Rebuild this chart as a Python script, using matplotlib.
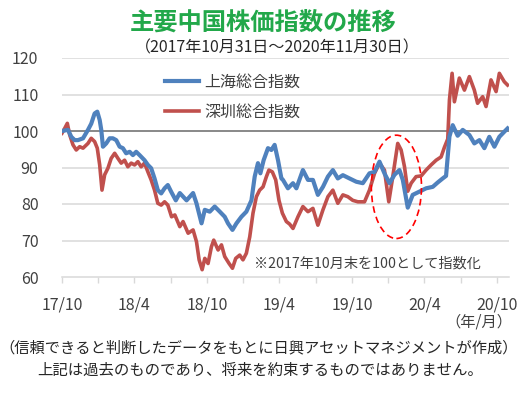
import matplotlib
matplotlib.use("Agg")
import matplotlib.pyplot as plt
from matplotlib.patches import Ellipse

plt.rcParams['font.family'] = ['Noto Sans CJK JP', 'DejaVu Sans']

# months elapsed since 2017-10-31
sh_months = [0, 0.50, 0.77, 1.05, 1.32, 1.74, 2.15, 2.42, 2.70, 2.92, 3.12, 3.25, 3.39, 3.66,
             3.94, 4.21, 4.49, 4.77, 5.04, 5.31, 5.60, 5.87, 6.14, 6.42, 6.83, 7.11, 7.38,
             7.66, 7.93, 8.21, 8.49, 8.76, 9.03, 9.42, 9.75, 10.31, 10.85, 11.13, 11.55,
             11.82, 12.23, 12.64, 13.06, 13.47, 13.74, 14.11, 14.44, 14.85, 15.26, 15.68,
             15.95, 16.22, 16.42, 16.69, 17.05, 17.33, 17.60, 17.88, 18.16, 18.29, 18.70,
             19.12, 19.40, 19.94, 20.36, 20.77, 21.18, 21.60, 22.01, 22.42, 22.83, 23.25,
             23.80, 24.36, 24.90, 25.45, 25.87, 26.28, 26.69, 27.11, 27.52, 27.93, 28.21,
             28.62, 29.03, 29.59, 30.14, 30.69, 31.10, 31.51, 31.79, 32.07, 32.34, 32.75,
             33.17, 33.72, 34.13, 34.55, 34.96, 35.37, 35.79, 36.20, 36.61, 36.88]
sh_values = [100, 100.3, 98.4, 97.5, 97.5, 98, 100.3, 102, 104.8, 105.3, 103, 100.3, 95.7, 96.6,
             98, 98, 97.5, 95.7, 95.3, 93.9, 94.3, 93.4, 94.3, 93.4, 92, 90.7, 89.8,
             87, 83.8, 82.9, 84.3, 85.2, 83.4, 81, 83, 81, 83, 80.2, 74.7,
             78.4, 77.9, 79.3, 77.9, 76.5, 74.7, 72.9, 74.7, 76.5, 77.9, 81,
             87.5, 91.2, 88.4, 92, 95.3, 94.8, 96.2, 92, 87, 86.6, 84.3,
             85.7, 84.3, 89.3, 86.6, 86.6, 82.5, 84.7, 87.5, 89.3, 87, 87.9,
             87, 86.1, 85.7, 88.4, 88.8, 91.6, 88.4, 85.7, 88, 89.3, 86.6,
             79, 82.5, 83.4, 84.3, 84.7, 85.9, 87, 87.7, 98.5, 101.6, 98.7,
             100.3, 98.9, 96.6, 97.5, 95.3, 98.4, 95.7, 98.4, 99.8, 100.7]

sz_months = [0, 0.22, 0.44, 0.64, 0.91, 1.18, 1.46, 1.74, 2.15, 2.42, 2.70, 2.92, 3.12, 3.31,
             3.53, 3.80, 4.07, 4.36, 4.63, 4.90, 5.18, 5.45, 5.73, 6.01, 6.28, 6.55, 6.83,
             7.11, 7.38, 7.66, 7.93, 8.21, 8.49, 8.76, 9.07, 9.34, 9.75, 10.02, 10.44, 10.85,
             11.13, 11.35, 11.60, 11.82, 12.09, 12.37, 12.56, 12.92, 13.20, 13.47, 13.83,
             14.11, 14.38, 14.71, 14.98, 15.26, 15.54, 15.81, 16.09, 16.36, 16.64, 16.92,
             17.13, 17.41, 17.69, 17.96, 18.24, 18.57, 18.84, 19.12, 19.53, 19.94, 20.36,
             20.77, 21.18, 21.60, 22.01, 22.42, 22.83, 23.25, 23.66, 24.07, 24.49, 25.04,
             25.45, 25.87, 26.28, 26.69, 27.05, 27.38, 27.79, 28.07, 28.35, 28.62, 28.90,
             29.31, 29.73, 30.14, 30.55, 30.97, 31.38, 31.65, 31.93, 32.07, 32.29, 32.48,
             32.89, 33.31, 33.72, 34.13, 34.40, 34.82, 35.10, 35.51, 35.93, 36.20, 36.61, 36.88]
sz_values = [99.4, 100.7, 102.1, 98.9, 96.2, 94.8, 95.7, 95.3, 96.6, 98, 97.1, 95.3, 90.7, 83.8,
             88, 89.8, 92.5, 93.9, 92.5, 91.2, 92, 90.2, 91.2, 90.7, 91.6, 90.2, 91.2,
             88.8, 86.6, 83.8, 80.2, 79.7, 80.6, 79.7, 76.5, 77, 73.8, 75.2, 72, 72.9,
             69.7, 64.7, 62, 65.1, 63.7, 68.3, 70.1, 67.4, 68.8, 65.6, 63.7,
             62.4, 65.1, 66, 64.7, 66.5, 71, 77.5, 82, 83.8, 84.7, 87.5,
             89.3, 88.8, 86.6, 81, 77.5, 75.2, 74.5, 73.3, 76.5, 79.3, 77.9,
             78.8, 74.2, 78.4, 82, 83.8, 80.2, 82.5, 82, 81, 80.6, 80.6,
             83.8, 88.4, 91.2, 89.3, 80.6, 87.5, 96.6, 94.8, 90.2, 83.5, 85.7,
             87.5, 87.7, 89.3, 90.7, 92, 92.9, 95.5, 97.8, 108.5, 115.8, 108,
             114.5, 111.2, 114.9, 111.2, 107.6, 109.4, 106.7, 114, 110.8, 115.8, 113.5, 112.6]

tick_months = [0, 6, 12, 18, 24, 30, 36]
tick_labels = ['17/10', '18/4', '18/10', '19/4', '19/10', '20/4', '20/10']
y_ticks = [60, 70, 80, 90, 100, 110, 120]
series_names = ['上海総合指数', '深圳総合指数']

BLUE = '#4F81BD'
RED = '#C0504D'
TXT = '#404040'

fig = plt.figure(figsize=(5.28, 3.97), dpi=100)
ax = fig.add_axes([62/528, 1-277/397, 447/528, 219/397])

for y in y_ticks:
    if y == 100:
        ax.axhline(y, color='#7f7f7f', lw=1.3, zorder=1)
    elif y != 60:
        ax.axhline(y, color='#d9d9d9', lw=1.1, zorder=1)

l1, = ax.plot(sh_months, sh_values, color=BLUE, lw=3.0, zorder=3, solid_joinstyle='round')
l2, = ax.plot(sz_months, sz_values, color=RED, lw=2.6, zorder=2, solid_joinstyle='round')

ax.set_xlim(0, 37)
ax.set_ylim(60, 120)
ax.set_yticks(y_ticks)
ax.set_yticklabels([str(v) for v in y_ticks])
ax.set_xticks(range(0, 37, 3), minor=False)
ax.set_xticklabels([tick_labels[tick_months.index(m)] if m in tick_months else '' for m in range(0, 37, 3)])
ax.tick_params(axis='y', length=0, labelsize=11.5, labelcolor=TXT, pad=17)
ax.tick_params(axis='x', length=4, width=1, color='#d9d9d9', labelsize=11.5, labelcolor=TXT, pad=10)
for s in ['top', 'right', 'left']:
    ax.spines[s].set_visible(False)
ax.spines['bottom'].set_color('#d9d9d9')
ax.spines['bottom'].set_linewidth(1.1)

ax.legend([l1, l2], series_names, loc='upper left', bbox_to_anchor=(0.195, 1.0),
          frameon=False, fontsize=11.5, labelcolor=TXT, handlelength=2.1,
          handletextpad=0.35, labelspacing=0.8, borderaxespad=0.6)

ax.add_patch(Ellipse((27.68, 84.7), 4.15, 28.3, fill=False, edgecolor='#ff0000',
                     lw=1.2, ls=(0, (4, 2.5)), zorder=4))

ax.text(0.43, 0.06, '※2017年10月末を100として指数化', transform=ax.transAxes,
        fontsize=10.2, color=TXT, va='center', ha='left')

fig.text(263/528, 1-23/397, '主要中国株価指数の推移', fontsize=17.5, fontweight='bold',
         color='#22A84A', ha='center', va='center')
fig.text(277/528, 1-48/397, '（2017年10月31日～2020年11月30日）', fontsize=11.5,
         color='#262626', ha='center', va='center')
fig.text(512/528, 1-322/397, '（年/月）', fontsize=11, color=TXT, ha='right', va='center')
fig.text(259/528, 1-348/397, '（信頼できると判断したデータをもとに日興アセットマネジメントが作成）',
         fontsize=11, color='#262626', ha='center', va='center')
fig.text(260/528, 1-370/397, '上記は過去のものであり、将来を約束するものではありません。',
         fontsize=11.1, color='#262626', ha='center', va='center')

fig.savefig('out.png', dpi=100)
